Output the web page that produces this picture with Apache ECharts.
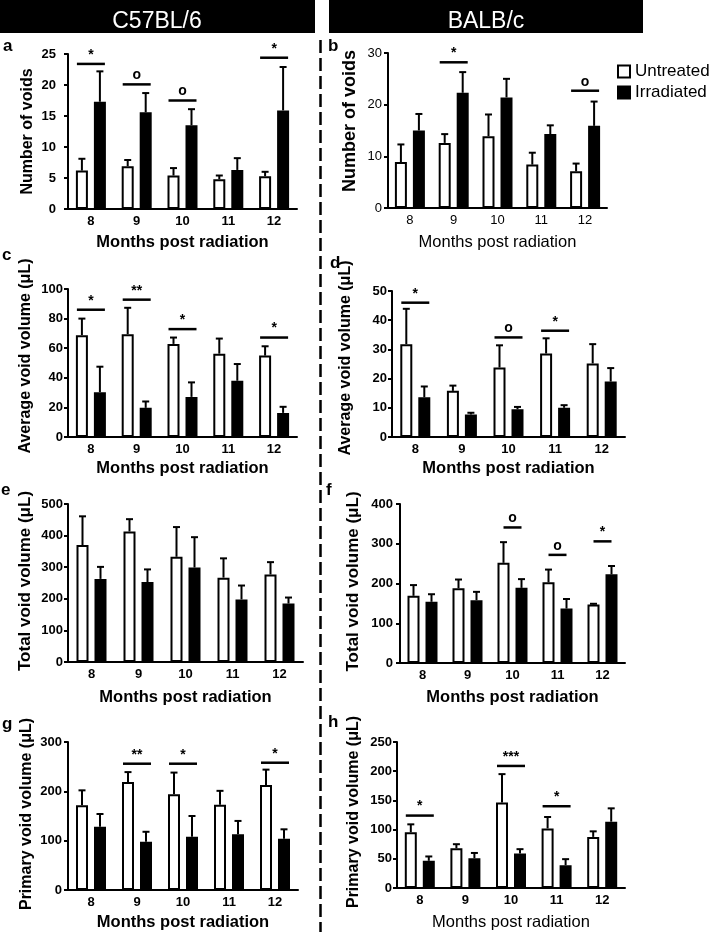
<!DOCTYPE html>
<html><head><meta charset="utf-8">
<script src="https://cdn.jsdelivr.net/npm/echarts@6/dist/echarts.min.js"></script>
<style>html,body{margin:0;padding:0;background:#fff}#chart{width:709px;height:932px}</style>
</head><body><div id="chart"></div>
<script>
// ---------- data ----------
const months = ['8', '9', '10', '11', '12'];
const groupNames = ['Untreated', 'Irradiated'];
const strainNames = ['C57BL/6', 'BALB/c'];
const xAxisName = 'Months post radiation';

// a: Number of voids, C57BL/6
const aUntreated = [6.2, 6.9, 5.4, 4.8, 5.3];
const aUntreatedUpper = [8.1, 7.9, 6.6, 5.4, 6.0];
const aIrradiated = [17.3, 15.6, 13.5, 6.3, 15.9];
const aIrradiatedUpper = [22.2, 18.7, 16.1, 8.2, 22.9];
const aSig = [[0, 23.4, '*'], [1, 20.1, 'o'], [2, 17.5, 'o'], [4, 24.4, '*']];
const aTicks = [0, 5, 10, 15, 20, 25];

// b: Number of voids, BALB/c
const bUntreated = [8.9, 12.6, 13.9, 8.4, 7.1];
const bUntreatedUpper = [12.3, 14.3, 18.1, 10.7, 8.6];
const bIrradiated = [15.0, 22.3, 21.4, 14.3, 15.9];
const bIrradiatedUpper = [18.2, 26.3, 25.0, 16.0, 20.6];
const bSig = [[1, 28.2, '*'], [4, 22.7, 'o']];
const bTicks = [0, 10, 20, 30];

// c: Average void volume, C57BL/6
const cUntreated = [68.8, 69.5, 62.9, 56.3, 55.0];
const cUntreatedUpper = [80.0, 87.3, 67.2, 66.5, 61.3];
const cIrradiated = [30.3, 19.7, 27.1, 38.0, 16.3];
const cIrradiatedUpper = [47.5, 24.0, 36.9, 49.3, 20.4];
const cSig = [[0, 86, '*'], [1, 92.8, '**'], [2, 72.9, '*'], [4, 67.2, '*']];
const cTicks = [0, 20, 40, 60, 80, 100];

// d: Average void volume, BALB/c
const dUntreated = [31.8, 15.8, 23.8, 28.6, 25.2];
const dUntreatedUpper = [43.9, 17.6, 31.4, 33.8, 31.8];
const dIrradiated = [13.6, 7.7, 9.5, 10.0, 19.0];
const dIrradiatedUpper = [17.3, 8.3, 10.3, 10.9, 23.6];
const dSig = [[0, 46.0, '*'], [2, 34.1, 'o'], [3, 36.4, '*']];
const dTicks = [0, 10, 20, 30, 40, 50];

// e: Total void volume, C57BL/6
const eUntreated = [370, 413, 333, 267, 277];
const eUntreatedUpper = [461, 452, 427, 328, 316];
const eIrradiated = [263, 253, 299, 198, 185];
const eIrradiatedUpper = [301, 293, 395, 242, 204];
const eSig = [];
const eTicks = [0, 100, 200, 300, 400, 500];

// f: Total void volume, BALB/c
const fUntreated = [169, 188, 252, 203, 147];
const fUntreatedUpper = [196, 210, 304, 235, 149];
const fIrradiated = [154, 158, 189, 137, 223];
const fIrradiatedUpper = [173, 179, 211, 161, 244];
const fSig = [[2, 341, 'o'], [3, 272, 'o'], [4, 306, '*']];
const fTicks = [0, 100, 200, 300, 400];

// g: Primary void volume, C57BL/6
const gUntreated = [172, 219, 194, 173, 213];
const gUntreatedUpper = [202, 239, 238, 201, 244];
const gIrradiated = [128, 98, 108, 113, 104];
const gIrradiatedUpper = [154, 118, 150, 140, 123];
const gSig = [[1, 256, '**'], [2, 256, '*'], [4, 258, '*']];
const gTicks = [0, 100, 200, 300];

// h: Primary void volume, BALB/c
const hUntreated = [95.5, 68, 146.6, 102, 87.5];
const hUntreatedUpper = [109, 75, 195, 121.6, 97];
const hIrradiated = [46.6, 51, 59, 39, 113.6];
const hIrradiatedUpper = [54, 60, 66.5, 49.4, 136.4];
const hSig = [[0, 124, '*'], [2, 209, '***'], [3, 140, '*']];
const hTicks = [0, 50, 100, 150, 200, 250];

const yNames = {
  a: 'Number of voids', b: 'Number of voids',
  c: 'Average void volume (μL)', d: 'Average void volume (μL)',
  e: 'Total void volume (μL)', f: 'Total void volume (μL)',
  g: 'Primary void volume (μL)', h: 'Primary void volume (μL)'
};

// ---------- panel wiring ----------
const panelData = {
  a: [aUntreated, aUntreatedUpper, aIrradiated, aIrradiatedUpper, aSig, aTicks],
  b: [bUntreated, bUntreatedUpper, bIrradiated, bIrradiatedUpper, bSig, bTicks],
  c: [cUntreated, cUntreatedUpper, cIrradiated, cIrradiatedUpper, cSig, cTicks],
  d: [dUntreated, dUntreatedUpper, dIrradiated, dIrradiatedUpper, dSig, dTicks],
  e: [eUntreated, eUntreatedUpper, eIrradiated, eIrradiatedUpper, eSig, eTicks],
  f: [fUntreated, fUntreatedUpper, fIrradiated, fIrradiatedUpper, fSig, fTicks],
  g: [gUntreated, gUntreatedUpper, gIrradiated, gIrradiatedUpper, gSig, gTicks],
  h: [hUntreated, hUntreatedUpper, hIrradiated, hIrradiatedUpper, hSig, hTicks]
};

// ---------- layout / style ----------
const FONT = '"Liberation Sans", Arial, Helvetica, sans-serif';
const layout = {
  a: {left: 68, top: 54, width: 229, height: 155, yGap: 32, yFs: 16, yPad: 0, yLM: 12, yLW: 'bold', xLW: 'bold', xNW: 'bold', xGap: 25, sigW: 28, letter: [8, 48]},
  b: {left: 388, top: 53, width: 219, height: 155, yGap: 29, yFs: 18, yPad: 19, yLM: 6, yLW: 'normal', xLW: 'normal', xNW: 'normal', xGap: 26, sigW: 28, letter: [333, 48]},
  c: {left: 68, top: 289, width: 229, height: 148, yGap: 34, yFs: 16, yPad: 14, yLM: 5, yLW: 'bold', xLW: 'bold', xNW: 'bold', xGap: 23, sigW: 28, letter: [7, 257]},
  d: {left: 392, top: 291, width: 233, height: 146, yGap: 38, yFs: 16, yPad: 12, yLM: 5, yLW: 'bold', xLW: 'bold', xNW: 'bold', xGap: 23, sigW: 28, letter: [335, 265]},
  e: {left: 68, top: 504, width: 235, height: 158, yGap: 34, yFs: 17, yPad: 4, yLM: 5, yLW: 'bold', xLW: 'bold', xNW: 'bold', xGap: 27, sigW: 28, letter: [6, 492]},
  f: {left: 400, top: 504, width: 225, height: 159, yGap: 38, yFs: 17, yPad: 4, yLM: 7, yLW: 'bold', xLW: 'bold', xNW: 'bold', xGap: 26, sigW: 18, letter: [331, 492]},
  g: {left: 68, top: 742, width: 230, height: 148, yGap: 33, yFs: 16, yPad: 4, yLM: 6, yLW: 'bold', xLW: 'bold', xNW: 'bold', xGap: 24, sigW: 28, letter: [7, 726]},
  h: {left: 397, top: 742, width: 228, height: 146, yGap: 35, yFs: 16, yPad: 6, yLM: 5, yLW: 'bold', xLW: 'bold', xNW: 'normal', xGap: 26, sigW: 28, letter: [333, 724]}
};

const BAR_W = 12;
const BAR_GAP = 0.5;          // fraction of bar width
const OFF = (BAR_W + BAR_W * BAR_GAP) / 2;

const grid = [], xAxis = [], yAxis = [], series = [], graphic = [];

Object.keys(panelData).forEach((key, k) => {
  const [U, Uup, I, Iup, sig, ticks] = panelData[key];
  const L = layout[key];
  grid.push({left: L.left, top: L.top, width: L.width, height: L.height, containLabel: false});
  xAxis.push({
    type: 'category', gridIndex: k, data: months, boundaryGap: true,
    axisLine: {lineStyle: {color: '#000', width: 2}},
    axisTick: {show: false},
    axisLabel: {color: '#000', fontSize: 13, fontWeight: L.xLW, fontFamily: FONT, margin: 6},
    name: xAxisName, nameLocation: 'middle', nameGap: L.xGap,
    nameTextStyle: {color: '#000', fontSize: 16.5, fontWeight: L.xNW, fontFamily: FONT}
  });
  yAxis.push({
    type: 'value', gridIndex: k, min: ticks[0], max: ticks[ticks.length - 1], interval: ticks[1] - ticks[0],
    axisLine: {show: true, lineStyle: {color: '#000', width: 2}},
    axisTick: {show: true, length: 4, lineStyle: {color: '#000', width: 2}},
    splitLine: {show: false},
    axisLabel: {color: '#000', fontSize: 13, fontWeight: L.yLW, fontFamily: FONT, margin: L.yLM},
    name: yNames[key], nameLocation: 'middle', nameRotate: 90, nameGap: L.yGap,
    nameTextStyle: {color: '#000', fontSize: L.yFs, fontWeight: 'bold', fontFamily: FONT, padding: [0, 0, 0, L.yPad]}
  });
  series.push({
    type: 'bar', name: groupNames[0], xAxisIndex: k, yAxisIndex: k, data: U,
    barWidth: BAR_W, barGap: (BAR_GAP * 100) + '%', silent: true,
    itemStyle: {color: '#fff', borderColor: '#000', borderWidth: 2}
  });
  series.push({
    type: 'bar', name: groupNames[1], xAxisIndex: k, yAxisIndex: k, data: I,
    barWidth: BAR_W, barGap: (BAR_GAP * 100) + '%', silent: true,
    itemStyle: {color: '#000', borderColor: '#000', borderWidth: 2}
  });
  const errData = [];
  months.forEach((m, i) => {
    errData.push([i, Uup[i], U[i], 0]);
    errData.push([i, Iup[i], I[i], 1]);
  });
  series.push({
    type: 'custom', xAxisIndex: k, yAxisIndex: k, data: errData, z: 5, silent: true,
    renderItem: (params, api) => {
      const pTop = api.coord([api.value(0), api.value(1)]);
      const pBase = api.coord([api.value(0), api.value(2)]);
      const cx = pTop[0] + (api.value(3) ? OFF : -OFF);
      return {type: 'group', children: [
        {type: 'line', shape: {x1: cx, y1: pBase[1], x2: cx, y2: pTop[1]}, style: {stroke: '#000', lineWidth: 2}},
        {type: 'line', shape: {x1: cx - 3.5, y1: pTop[1], x2: cx + 3.5, y2: pTop[1]}, style: {stroke: '#000', lineWidth: 2}}
      ]};
    }
  });
  if (sig.length) {
    series.push({
      type: 'custom', xAxisIndex: k, yAxisIndex: k, data: sig.map(s => [s[0], s[1]]), z: 6, silent: true,
      renderItem: (params, api) => {
        const s = sig[params.dataIndex];
        const p = api.coord([s[0], s[1]]);
        const w = L.sigW;
        return {type: 'group', children: [
          {type: 'line', shape: {x1: p[0] - w / 2, y1: p[1], x2: p[0] + w / 2, y2: p[1]}, style: {stroke: '#000', lineWidth: 2.5}},
          {type: 'text', x: p[0], y: p[1] - 9, style: {text: s[2], fill: '#000', font: 'bold 14px ' + FONT, align: 'center', verticalAlign: 'middle'}}
        ]};
      }
    });
  }
  graphic.push({type: 'text', left: L.letter[0] - 5, top: L.letter[1] - 10,
    style: {text: key, fill: '#000', font: 'bold 17px ' + FONT}});
});

// headers & divider
graphic.push({type: 'rect', shape: {x: 0, y: 0, width: 315, height: 33}, style: {fill: '#000'}});
graphic.push({type: 'rect', shape: {x: 329, y: 0, width: 314, height: 33}, style: {fill: '#000'}});
graphic.push({type: 'text', x: 157, y: 22, style: {text: strainNames[0], fill: '#fff', font: '23px ' + FONT, align: 'center', verticalAlign: 'middle'}});
graphic.push({type: 'text', x: 486, y: 22, style: {text: strainNames[1], fill: '#fff', font: '23px ' + FONT, align: 'center', verticalAlign: 'middle'}});
graphic.push({type: 'line', shape: {x1: 320.5, y1: 40, x2: 320.5, y2: 932}, style: {stroke: '#000', lineWidth: 2.5, lineDash: [13, 5]}});

const chart = echarts.init(document.getElementById('chart'), null, {renderer: 'canvas'});
chart.setOption({
  animation: false,
  backgroundColor: '#fff',
  textStyle: {fontFamily: FONT},
  legend: {
    data: groupNames, orient: 'vertical', left: 612, top: 58, itemWidth: 12, itemHeight: 12, itemGap: 4,
    icon: 'rect', selectedMode: false,
    textStyle: {color: '#000', fontSize: 17, fontFamily: FONT}
  },
  grid, xAxis, yAxis, series, graphic
});
</script>
</body></html>
